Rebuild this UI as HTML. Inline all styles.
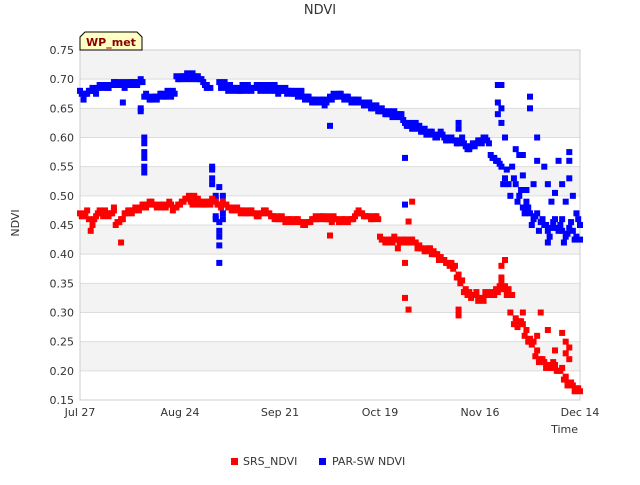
<!DOCTYPE html>
<html><head><meta charset="utf-8"><style>
body{margin:0;background:#fff;font-family:"Liberation Sans",sans-serif}
svg text{font-family:"DejaVu Sans","Liberation Sans",sans-serif}
</style></head><body>
<svg id="chart" width="640" height="480" xmlns="http://www.w3.org/2000/svg">
<text x="320" y="14" text-anchor="middle" font-size="13" fill="#333">NDVI</text>
<g id="bands"></g><g id="grid"></g>
<rect x="80" y="50" width="500" height="350" fill="none" stroke="#ccc"/>
<g id="ticks"></g><g id="marks"></g>
<text transform="translate(19,223) rotate(-90)" text-anchor="middle" font-size="11" fill="#333">NDVI</text>
<text x="578" y="433" text-anchor="end" font-size="11" fill="#333">Time</text>
<g>
<path d="M80,50 L80,37 L85,32 L137,32 L142,37 L142,50 Z" fill="#ffffc4" stroke="#000"/>
<text x="111" y="46" text-anchor="middle" font-size="11" font-weight="bold" fill="#8b0000">WP_met</text></g>
<g><rect x="231" y="458" width="7" height="7" fill="#f00"/><text x="243" y="465" font-size="11" fill="#333">SRS_NDVI</text></g>
<g><rect x="319" y="458" width="7" height="7" fill="#00f"/><text x="332" y="465" font-size="11" fill="#333">PAR-SW NDVI</text></g>
</svg>
<script>
const yTicks=[0.15,0.2,0.25,0.3,0.35,0.4,0.45,0.5,0.55,0.6,0.65,0.7,0.75];
const xTickLabels=["Jul 27","Aug 24","Sep 21","Oct 19","Nov 16","Dec 14"];
const xTickDays=[0,28,56,84,112,140];
const srsVals=[.47,.465,.475,.44,.46,.47,.47,.475,.465,.47,.45,.455,.46,.47,.475,.475,.48,.48,.485,.485,.49,.485,.48,.485,.48,.49,.475,.48,.485,.49,.495,.49,.50,.495,.49,.485,.49,.495,.49,.485,.49,.485,.48,.475,.48,.47,.475,.47,.475,.47,.465,.47,.475,.47,.465,.465,.46,.46,.455,.46,.455,.46,.455,.45,.455,.46,.465,.46,.465,.46,.46,.465,.46,.455,.46,.455,.46,.465,.475,.47,.465,.465,.46,.465,.43,.425,.42,.425,.43,.425,.42,.425,.42,.425,.42,.415,.41,.405,.41,.405,.40,.395,.39,.385,.385,.38,.365,.355,.34,.335,.33,.335,.325,.32,.33,.335,.33,.335,.35,.345,.34,.33,.29,.285,.28,.27,.255,.25,.235,.22,.215,.21,.205,.21,.20,.205,.19,.18,.175,.17,.165];
const srsVals2=[.465,.47,.46,.45,.465,.475,.465,.47,.47,.475,.455,.46,.47,.475,.47,.48,.475,.485,.48,.49,.485,.48,.485,.48,.485,.485,.48,.485,.49,.495,.50,.485,.495,.49,.485,.49,.485,.49,.485,.48,.485,.48,.475,.48,.475,.475,.47,.475,.47,.465,.47,.475,.47,.465,.46,.46,.465,.455,.46,.455,.46,.455,.45,.455,.455,.46,.46,.465,.46,.465,.455,.46,.455,.46,.455,.46,.46,.47,.47,.465,.465,.46,.465,.46,.425,.42,.425,.42,.425,.42,.425,.42,.425,.42,.41,.41,.405,.41,.40,.40,.39,.39,.385,.38,.375,.36,.35,.335,.33,.325,.33,.32,.325,.335,.33,.33,.34,.345,.34,.33,.30,.28,.275,.285,.26,.25,.245,.225,.215,.22,.205,.205,.215,.20,.20,.185,.175,.18,.165,.17];
const srsExtraDays=[11.5,70,91,91,92,92,93,106,106,118,119,118,128,133,135,136,136,137,137,131,129,124,3.5,9.5,33,89];
const srsExtraVals=[.42,.432,.385,.325,.305,.456,.49,.305,.295,.38,.39,.36,.26,.235,.265,.25,.23,.24,.22,.27,.30,.30,.45,.48,.485,.41];
const parVals=[.68,.665,.675,.68,.68,.685,.685,.69,.685,.69,.695,.69,.69,.695,.69,.695,.69,.70,.67,.67,.665,.67,.67,.675,.67,.675,.68,.705,.70,.705,.71,.70,.705,.705,.70,.69,null,null,null,.695,.69,.685,.69,.68,.685,.68,.685,.69,.68,.685,.69,.685,.68,.69,.685,.68,.685,.68,.675,.68,.675,.67,.68,.665,.67,.66,.665,.66,.665,.66,.67,.675,.67,.675,.665,.67,.66,.665,.665,.66,.655,.66,.65,.655,.645,.645,.64,.64,.645,.635,.64,.625,.62,.615,.625,.62,.61,.605,.61,.605,.60,.61,.60,.595,.60,.595,.59,.60,.585,.58,.59,.59,.595,.60,.595,.57,.565,.56,.55,.53,.52,.55,.52,.50,.48,.49,.47,.46,.47,.455,.45,.44,.445,.46,.44,.44,.43,.445,.44,.43,.45];
const parVals2=[.675,.675,.68,.685,.675,.69,.69,.685,.69,.695,.69,.695,.685,.69,.695,.69,.695,.695,.675,.665,.67,.665,.675,.67,.68,.67,.675,.70,.705,.70,.705,.71,.70,.70,.695,.685,null,null,null,.685,.695,.68,.685,.685,.68,.69,.68,.685,.685,.69,.68,.69,.685,.68,.69,.675,.68,.685,.68,.675,.68,.675,.67,.67,.665,.665,.66,.665,.655,.665,.665,.67,.675,.67,.67,.665,.665,.66,.66,.655,.66,.65,.655,.645,.65,.64,.645,.635,.64,.64,.63,.62,.625,.62,.615,.61,.615,.605,.61,.60,.605,.605,.595,.60,.595,.59,.595,.59,.58,.585,.585,.595,.59,.60,.59,.565,.56,.555,.52,.545,.50,.53,.49,.51,.47,.48,.45,.465,.44,.46,.45,.43,.455,.445,.45,.42,.435,.455,.425,.46];
const parExtraDays=[12,17,17,18,18,18,18,18,18,37,37,37,37,38,38,38,38,39,39,39,39,39,39,40,40,40,70,91,91,106,106,117,117,117,118,118,118,119,122,123,124,124,125,126,126,128,128,127,130,131,134,135,137,137,137,138,139,140,133,131,132,135,136,35.5,36.5];
const parExtraVals=[.66,.65,.645,.60,.59,.575,.565,.55,.54,.53,.52,.55,.545,.50,.495,.465,.46,.515,.455,.44,.43,.415,.385,.50,.47,.46,.62,.565,.485,.625,.615,.69,.66,.64,.69,.65,.625,.60,.58,.57,.57,.535,.51,.67,.65,.56,.60,.52,.55,.52,.56,.52,.53,.575,.56,.50,.47,.425,.505,.42,.49,.46,.49,.69,.685];

const NS="http://www.w3.org/2000/svg";
const X=d=>80+d*500/140, Y=v=>400-(v-0.15)*350/0.6;
function el(t,a,p){const e=document.createElementNS(NS,t);for(const k in a)e.setAttribute(k,a[k]);p.appendChild(e);return e;}
const bands=document.getElementById('bands'),grid=document.getElementById('grid'),ticks=document.getElementById('ticks'),marks=document.getElementById('marks');
for(let i=0;i<yTicks.length-1;i++){
  if((yTicks.length-2-i)%2===0){const b=el('rect',{x:80,y:Y(yTicks[i+1]),width:500,height:Y(yTicks[i])-Y(yTicks[i+1]),fill:'#f3f3f3'},bands);
  
  }
}
yTicks.forEach(v=>{
  const l=el('line',{x1:80,x2:580,y1:Y(v),y2:Y(v),stroke:'#ddd'},grid);
  
  
  const t=el('text',{x:74,y:Y(v)+4,'text-anchor':'end','font-size':11,fill:'#333'},ticks);
  
  
  t.textContent=v.toFixed(2);
});
xTickDays.forEach((d,i)=>{
  const t=el('text',{x:X(d),y:416,'text-anchor':'middle','font-size':11,fill:'#333'},ticks);
  
  
  t.textContent=xTickLabels[i];
});
function pt(d,v,c,name){
  const r=el('rect',{x:X(d)-3,y:Y(v)-3,width:6,height:6,fill:c},marks);
  
  
}
parVals.forEach((v,i)=>{if(v!==null)pt(i,v,'#00f','par-point');});
parVals2.forEach((v,i)=>{if(v!==null)pt(i+0.5,v,'#00f','par-point');});
parExtraDays.forEach((d,i)=>pt(d,parExtraVals[i],'#00f','par-point'));
srsVals.forEach((v,i)=>pt(i,v,'#f00','srs-point'));
srsVals2.forEach((v,i)=>{if(i<140)pt(i+0.5,v,'#f00','srs-point');});
srsExtraDays.forEach((d,i)=>pt(d,srsExtraVals[i],'#f00','srs-point'));
</script>
</body></html>
